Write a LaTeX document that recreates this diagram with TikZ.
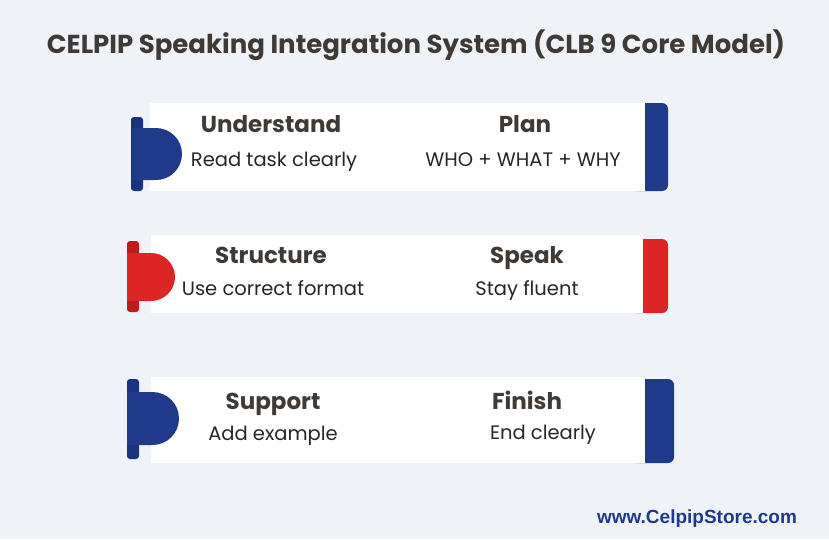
\documentclass[tikz,border=0pt]{standalone}
\usepackage{fontspec}
\setmainfont{Poppins}
\newfontfamily\sitefont{Liberation Sans}
\usetikzlibrary{positioning}

\definecolor{pagebg}{HTML}{EFF3F8}
\definecolor{inkgray}{HTML}{403A36}
\definecolor{navy}{HTML}{1F3A8A}
\definecolor{navydark}{HTML}{1A3380}
\definecolor{alertred}{HTML}{DC2626}
\definecolor{alertdark}{HTML}{B91C1C}

\tikzset{
  card/.style={fill=white, draw=none},
  head/.style={font=\fontsize{23}{27}\selectfont\bfseries, text=inkgray, inner sep=0pt, anchor=base},
  body/.style={font=\fontsize{19.5}{23}\selectfont, text=black!85, inner sep=0pt, anchor=base},
}

\begin{document}
\begin{tikzpicture}[x=1pt,y=-1pt]
		\fill[pagebg] (0,0) rectangle (829,539);
		\useasboundingbox (0,0) rectangle (829,539);
		% title
		\node[font=\fontsize{26}{31}\selectfont\bfseries, text=inkgray, inner sep=0pt, anchor=base] (title) at (416,53) {CELPIP Speaking Integration System (CLB 9 Core Model)};
		% row 1
		\fill[card] (150,103) rectangle (645,191);
		\fill[navy, rounded corners=6] (630,103) rectangle (668,191);
		\fill[card] (630,103) rectangle (645,191);
		\fill[navydark, rounded corners=3] (131,117) rectangle (143,191);
		\fill[navy] (132,128) -- (156,128) arc (-90:90:26) -- (132,180) -- cycle;
		\node[head] (understand) at (271,132) {Understand};
		\node[body] (readtask) at (274,166) {Read task clearly};
		\node[head] (plan) at (525,132) {Plan};
		\node[body] (whowhat) at (523,166) {WHO + WHAT + WHY};
		% row 2
		\fill[card] (151,235) rectangle (643,313);
		\fill[alertred, rounded corners=6] (630,239) rectangle (668,313);
		\fill[card] (630,235) rectangle (643,313);
		\fill[alertdark, rounded corners=3] (127,241) rectangle (139,312);
		\fill[alertred] (127,253) -- (151,253) arc (-90:90:24) -- (127,301) -- cycle;
		\node[head] (structure) at (271,263) {Structure};
		\node[body] (format) at (273,295) {Use correct format};
		\node[head] (speak) at (527,263) {Speak};
		\node[body] (fluent) at (527,295) {Stay fluent};
		% row 3
		\fill[card] (151,377) rectangle (645,463);
		\fill[navy, rounded corners=6] (630,379) rectangle (674,463);
		\fill[card] (630,377) rectangle (645,463);
		\fill[navydark, rounded corners=3] (127,379) rectangle (139,459);
		\fill[navy] (127,392) -- (152.5,392) arc (-90:90:26.5) -- (127,445) -- cycle;
		\node[head] (support) at (273,409) {Support};
		\node[body] (example) at (273,440) {Add example};
		\node[head] (finish) at (527,409) {Finish};
		\node[body] (endclear) at (543,439) {End clearly};
		% footer
		\node[font=\sitefont\fontsize{19}{23}\selectfont\bfseries, text=navy, inner sep=0pt, anchor=base] (site) at (697,523) {www.CelpipStore.com};
\end{tikzpicture}
\end{document}
